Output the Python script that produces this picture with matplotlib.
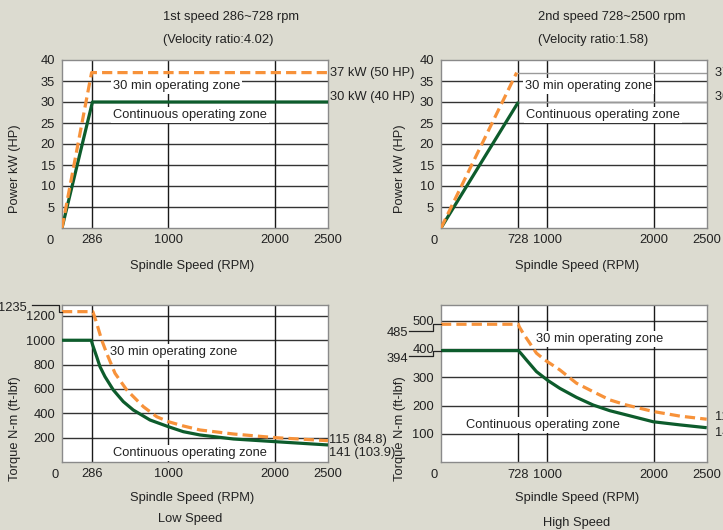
import matplotlib
matplotlib.use('Agg')
import matplotlib.pyplot as plt
from matplotlib.lines import Line2D
from matplotlib.transforms import IdentityTransform

plt.rcParams['font.family'] = ['Liberation Sans', 'DejaVu Sans']

# power, low speed gear
pw_low_rpm = [0, 286, 2500]
pw_low_cont = [0, 30, 30]
pw_low_30_rpm = [0, 278, 2500]
pw_low_30 = [0, 37, 37]

# power, high speed gear
pw_high_rpm = [0, 728]
pw_high_cont = [0, 30]
pw_high_30_rpm = [0, 712]
pw_high_30 = [0, 37]

# torque, low speed gear
tq_low_cont_rpm = [0, 275, 288, 326, 357, 404, 482, 576, 670, 827, 1000, 1140, 1297, 1611, 2004, 2500]
tq_low_cont = [1000, 1000, 961, 865, 783, 701, 592, 496, 427, 345, 290, 249, 222, 189, 167, 140]
tq_low_30_rpm = [0, 290, 326, 373, 420, 498, 608, 765, 890, 1000, 1140, 1297, 1611, 2004, 2500]
tq_low_30 = [1235, 1235, 1140, 1002, 893, 729, 592, 454, 372, 331, 296, 263, 230, 200, 175]

# torque, high speed gear
tq_high_cont_rpm = [0, 728, 757, 804, 898, 1008, 1118, 1275, 1432, 1589, 1746, 1997, 2248, 2500]
tq_high_cont = [394, 394, 382, 361, 320, 288, 261, 229, 202, 182, 167, 143, 132, 122]
tq_high_30_rpm = [0, 728, 735, 773, 836, 898, 977, 1118, 1275, 1432, 1589, 1746, 2000, 2248, 2500]
tq_high_30 = [487, 487, 479, 455, 420, 385, 361, 326, 279, 249, 220, 202, 179, 163, 152]

W, H = 723, 530
BG = '#DCDBD0'
ORANGE = '#F7923A'
GREEN = '#0D5C2C'
TXT = '#222222'
FS = 9.3

fig = plt.figure(figsize=(W / 100, H / 100), dpi=100, facecolor=BG)


def rect(x0, y0, x1, y1):
    # pixel box (top-left origin) -> figure fraction
    return [x0 / W, 1 - y1 / H, (x1 - x0) / W, (y1 - y0) / H]


def panel(r, xticks, ylim, yticks, zero_dx):
    ax = fig.add_axes(r)
    ax.set_facecolor('white')
    ax.set_xlim(0, 2500)
    ax.set_ylim(*ylim)
    ax.set_xticks(xticks)
    ax.set_xticklabels([str(x) for x in xticks])
    ax.set_yticks(yticks)
    ax.set_yticklabels([str(y) for y in yticks])
    ax.tick_params(length=0, labelsize=FS, colors=TXT, pad=5)
    ax.tick_params(axis='x', pad=4.5)
    for s in ax.spines.values():
        s.set_color('#8a8a8a')
        s.set_linewidth(1)
    for y in yticks:
        if y < ylim[1]:
            ax.axhline(y, color='#333333', lw=1, zorder=1)
    for x in xticks:
        if x < 2500:
            ax.axvline(x, color='#1a1a1a', lw=1, zorder=1)
    ax.annotate('0', xy=(0, ylim[0]), xytext=(zero_dx * 0.72, -9.2), textcoords='offset points',
                ha='center', va='center', fontsize=FS, color=TXT, annotation_clip=False)
    return ax


def zone(ax, x, y, s):
    ax.text(x, y, s, fontsize=FS, color=TXT, ha='left', va='center', zorder=3,
            bbox=dict(facecolor='white', edgecolor='none', boxstyle='square,pad=0.15'))


def side(ax, x, y, s, dx, dy):
    ax.annotate(s, xy=(x, y), xytext=(dx * 0.72, dy * 0.72), textcoords='offset points',
                ha='left', va='center', fontsize=FS, color=TXT, annotation_clip=False)


def leader(ax, yval, pts, label, tdx, tdy):
    x0, y0 = ax.transData.transform((0, yval))
    xs = [x0 + dx for dx, dy in pts]
    ys = [y0 + dy for dx, dy in pts]
    fig.add_artist(Line2D(xs, ys, transform=IdentityTransform(), color=TXT, lw=0.9))
    fig.text(x0 + tdx, y0 + tdy, label, transform=IdentityTransform(), ha='right', va='center',
             fontsize=FS, color=TXT)


def curves(ax, xs_c, ys_c, xs_d, ys_d):
    ax.plot(xs_c, ys_c, color=GREEN, lw=2.3, zorder=5, solid_capstyle='butt', solid_joinstyle='round')
    ax.plot(xs_d, ys_d, color=ORANGE, lw=2.3, zorder=5, dashes=(3.2, 1.6))


# top left - power, low speed
ax1 = panel(rect(62, 60, 328, 228), [286, 1000, 2000, 2500], (0, 40), [5, 10, 15, 20, 25, 30, 35, 40], -12)
curves(ax1, pw_low_rpm, pw_low_cont, pw_low_30_rpm, pw_low_30)
zone(ax1, 479, 33.8, '30 min operating zone')
zone(ax1, 482, 26.9, 'Continuous operating zone')
side(ax1, 2500, 37, '37 kW (50 HP)', 2, 0)
side(ax1, 2500, 30, '30 kW (40 HP)', 2, 5)

# top right - power, high speed
ax2 = panel(rect(441, 60, 706.7, 228), [728, 1000, 2000, 2500], (0, 40), [5, 10, 15, 20, 25, 30, 35, 40], -7)
ax2.plot([728, 2500], [37, 37], color='#9a9a9a', lw=1, zorder=1)
ax2.plot([728, 2500], [30, 30], color='#9a9a9a', lw=1, zorder=1)
curves(ax2, pw_high_rpm, pw_high_cont, pw_high_30_rpm, pw_high_30)
zone(ax2, 790, 33.8, '30 min operating zone')
zone(ax2, 799, 26.9, 'Continuous operating zone')
side(ax2, 2500, 37, '37 kW (50 HP)', 8, 0)
side(ax2, 2500, 30, '30 kW (40 HP)', 8, 5)

# bottom left - torque, low speed
ax3 = panel(rect(62, 304.7, 328, 462), [286, 1000, 2000, 2500], (0, 1292), [200, 400, 600, 800, 1000, 1200], -7)
curves(ax3, tq_low_cont_rpm, tq_low_cont, tq_low_30_rpm, tq_low_30)
zone(ax3, 451, 901, '30 min operating zone')
zone(ax3, 479, 76, 'Continuous operating zone')
side(ax3, 2500, tq_low_30[-1], '115 (84.8)', 0.5, 1)
side(ax3, 2500, tq_low_cont[-1], '141 (103.9)', 0.5, -7.6)
leader(ax3, 1235, [(0, 0), (-2.7, 0), (-2.7, 6.7), (-30.3, 6.7)], '1235', -35.3, 4)

# bottom right - torque, high speed
ax4 = panel(rect(441, 304.7, 706.7, 462.3), [728, 1000, 2000, 2500], (0, 556), [100, 200, 300, 400, 500], -7)
curves(ax4, tq_high_cont_rpm, tq_high_cont, tq_high_30_rpm, tq_high_30)
zone(ax4, 893, 435, '30 min operating zone')
zone(ax4, 235, 132, 'Continuous operating zone')
side(ax4, 2500, tq_high_30[-1], '115 (84.8)', 8, 2.6)
side(ax4, 2500, tq_high_cont[-1], '141 (103.9)', 8, -5.3)
leader(ax4, 487, [(0, 0), (-8, 0), (-8, -6.5), (-32, -6.5)], '485', -33, -8.7)
leader(ax4, 394, [(0, 0), (-8, 0), (-8, -5.5), (-32, -5.5)], '394', -33, -8.8)


def ftext(x, y, s, **kw):
    fig.text(x / W, 1 - y / H, s, fontsize=FS, color=TXT, **kw)


ftext(163, 17, '1st speed 286~728 rpm', ha='left', va='center')
ftext(163, 40, '(Velocity ratio:4.02)', ha='left', va='center')
ftext(538, 17, '2nd speed 728~2500 rpm', ha='left', va='center')
ftext(538, 40, '(Velocity ratio:1.58)', ha='left', va='center')

ftext(15, 169, 'Power kW (HP)', ha='center', va='center', rotation=90)
ftext(400, 169, 'Power kW (HP)', ha='center', va='center', rotation=90)
ftext(15, 429, 'Torque N-m (ft-lbf)', ha='center', va='center', rotation=90)
ftext(400, 429, 'Torque N-m (ft-lbf)', ha='center', va='center', rotation=90)

ftext(192, 266, 'Spindle Speed (RPM)', ha='center', va='center')
ftext(577, 266, 'Spindle Speed (RPM)', ha='center', va='center')
ftext(192, 498, 'Spindle Speed (RPM)', ha='center', va='center')
ftext(577, 498, 'Spindle Speed (RPM)', ha='center', va='center')
ftext(190, 519, 'Low Speed', ha='center', va='center')
ftext(577, 523, 'High Speed', ha='center', va='center')

fig.savefig('out.png', dpi=100, facecolor=BG)
